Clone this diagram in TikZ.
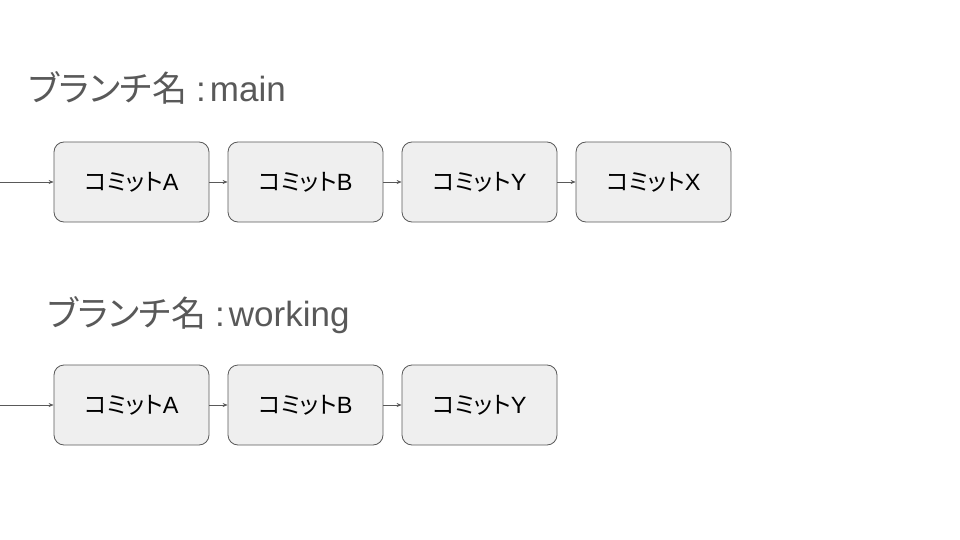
\documentclass[tikz,border=0pt]{standalone}
\usepackage{fontspec}
\setmainfont{Liberation Sans}
\newfontfamily\jp[RawFeature=+palt]{Noto Sans CJK JP}
\usetikzlibrary{arrows.meta}
\definecolor{boxfill}{HTML}{EFEFEF}
\definecolor{boxline}{HTML}{595959}
\definecolor{titlegray}{HTML}{595959}
\newcommand{\commitlabel}[1]{{\jp コミット}#1}
\newcommand{\branchlabel}[1]{{\jp ブランチ名}\hspace{9pt}:\hspace{4pt}#1}
\begin{document}
\begin{tikzpicture}[x=1pt,y=-1pt,
  commit/.style={draw=boxline, line width=0.8pt, fill=boxfill, rounded corners=10pt,
    minimum width=155pt, minimum height=80pt, inner sep=0pt,
    font=\fontsize{23.5}{28}\selectfont, text=black},
  link/.style={draw=boxline, line width=0.6pt, -{Stealth[length=5pt,width=4pt]}},
  title/.style={anchor=base west, inner sep=0pt, text=titlegray, font=\fontsize{35}{40}\selectfont}
]
\useasboundingbox (0,0) rectangle (960,540);
\node[title] (t1) at (28,102) {\branchlabel{main}};
\node[commit] (a1) at (131.5,182) {\commitlabel{A}};
\node[commit] (b1) at (305.5,182) {\commitlabel{B}};
\node[commit] (y1) at (479.5,182) {\commitlabel{Y}};
\node[commit] (x1) at (653.5,182) {\commitlabel{X}};
\coordinate (s1) at (0,182);
\draw[link] (s1) -- (a1);
\draw[link] (a1) -- (b1);
\draw[link] (b1) -- (y1);
\draw[link] (y1) -- (x1);

\node[title] (t2) at (47,326) {\branchlabel{working}};
\node[commit] (a2) at (131.5,405) {\commitlabel{A}};
\node[commit] (b2) at (305.5,405) {\commitlabel{B}};
\node[commit] (y2) at (479.5,405) {\commitlabel{Y}};
\coordinate (s2) at (0,405);
\draw[link] (s2) -- (a2);
\draw[link] (a2) -- (b2);
\draw[link] (b2) -- (y2);
\end{tikzpicture}
\end{document}
